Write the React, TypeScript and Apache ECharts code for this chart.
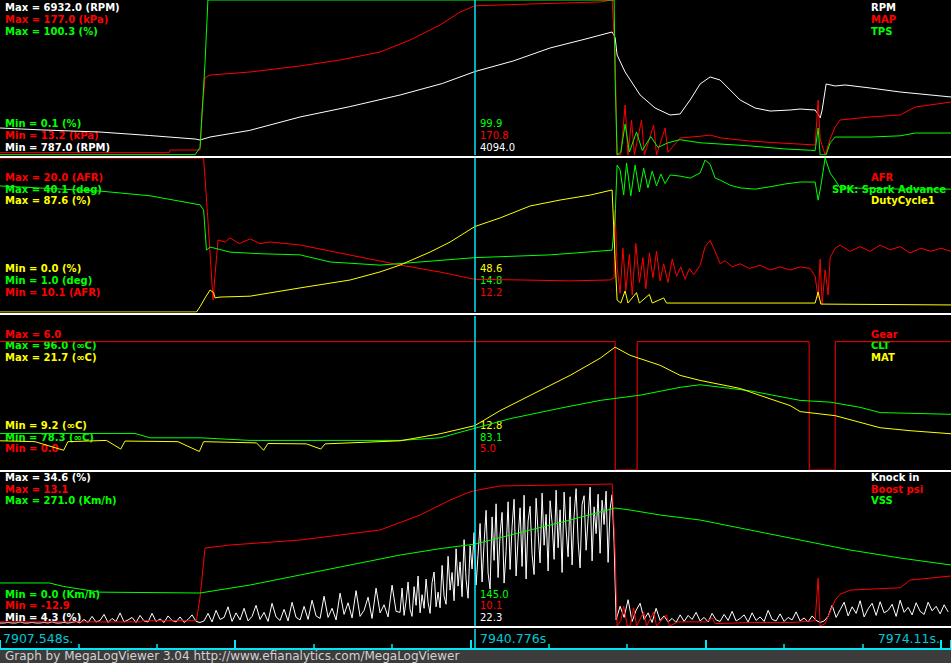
import React, { useEffect, useRef } from "react";
import * as echarts from "echarts";

type P = [number, number];

const T_MIN = 7907.548;
const T_MAX = 7974.11;
const CURSOR_T = 7940.776;
const START_LABEL = "7907.548s.";
const CURSOR_LABEL = "7940.776s";
const END_LABEL = "7974.11s.";
const FOOTER = "Graph by MegaLogViewer 3.04 http://www.efianalytics.com/MegaLogViewer";

// ---------- Panel 1 ----------
const rpmData: P[] = [
  [7907.55, 1857], [7910.5, 1780], [7914.55, 1698], [7918.0, 1560], [7921.2, 1421], [7921.55, 1381],
  [7922.25, 1500], [7925.0, 1760], [7928.55, 2294], [7932.0, 2700], [7935.55, 3166], [7938.5, 3620],
  [7940.78, 4094], [7943.5, 4520], [7946.05, 5030], [7948.5, 5380], [7950.39, 5664], [7950.6, 5450],
  [7950.74, 4752], [7951.3, 4078], [7952.35, 3166], [7953.4, 2650], [7954.45, 2373], [7955.15, 2413],
  [7955.85, 2968], [7956.55, 3602], [7957.25, 3880], [7957.95, 3761], [7958.65, 3364], [7959.35, 2968],
  [7960.4, 2650], [7961.45, 2530], [7962.85, 2571], [7963.55, 2610], [7964.6, 2571], [7964.81, 2400],
  [7964.95, 2254], [7965.09, 2571], [7965.37, 3602], [7966.0, 3523], [7966.7, 3563], [7968.45, 3444],
  [7970.55, 3285], [7974.12, 3087],
];
const mapData: P[] = [
  [7907.55, 15.6], [7919.4, 15.6], [7919.45, 18.5], [7921.55, 18.5], [7921.7, 60], [7921.9, 95],
  [7922.25, 97.7], [7925.05, 100.9], [7928.55, 107.3], [7931.35, 113.6], [7934.15, 122.0], [7936.25, 134.7],
  [7938.35, 150.6], [7939.75, 164.3], [7940.78, 170.8], [7944.65, 172.8], [7949.55, 174.9], [7950.39, 177.0],
  [7950.6, 120], [7950.74, 13.2], [7951.0, 13.2], [7951.3, 66.0], [7951.5, 13.2], [7951.75, 50],
  [7951.95, 13.2], [7952.45, 50.2], [7952.65, 13.2], [7953.3, 44.9], [7953.5, 13.2], [7954.1, 41.7],
  [7954.3, 16], [7955.15, 31.2], [7956.55, 33], [7957.25, 34.3], [7958.0, 31.2], [7960.0, 28],
  [7962.0, 26], [7964.6, 23.8], [7964.81, 71.3], [7964.95, 30], [7965.3, 13.2], [7965.65, 30],
  [7966.0, 42.8], [7966.35, 50.2], [7968.45, 53.4], [7970.55, 55.5], [7971.6, 63.9], [7974.12, 69.2],
];
const tpsData: P[] = [
  [7907.55, 0.3], [7921.2, 0.3], [7921.55, 5], [7921.9, 60], [7922.1, 100.3], [7950.53, 100.3],
  [7950.6, 50], [7950.74, 0.1], [7951.0, 2], [7951.3, 20], [7951.6, 2], [7952.1, 15], [7952.5, 3],
  [7953.1, 12], [7953.6, 5], [7954.3, 8], [7955.15, 10], [7956.55, 8], [7960.0, 6], [7962.5, 4],
  [7964.6, 3], [7964.81, 17.6], [7964.95, 0.2], [7965.37, 0.2], [7965.65, 8], [7966.0, 11.7],
  [7968.45, 11.7], [7970.55, 12.5], [7971.6, 14.3], [7974.12, 14.3],
];

// ---------- Panel 2 ----------
const afrData: P[] = [
  [7907.55, 20.0], [7921.8, 20.0], [7922.1, 16], [7922.46, 10.87], [7922.6, 12.5], [7922.81, 14.73],
  [7923.3, 14.6], [7923.65, 14.86], [7924.3, 14.5], [7925.05, 14.8], [7925.75, 14.5], [7926.45, 14.6],
  [7928.55, 14.41], [7932.05, 13.76], [7935.55, 13.12], [7938.35, 12.67], [7940.78, 12.2], [7943.95, 12.16],
  [7947.45, 12.1], [7950.25, 12.16], [7950.53, 12.3], [7950.6, 16.66], [7950.74, 13.0], [7950.95, 11.3],
  [7951.15, 14.2], [7951.35, 11.5], [7951.6, 13.8], [7951.8, 11.2], [7952.05, 14.5], [7952.3, 12.0],
  [7952.55, 13.6], [7952.75, 11.6], [7953.0, 13.9], [7953.25, 12.3], [7953.5, 14.0], [7953.75, 12.1],
  [7954.0, 13.2], [7954.3, 12.0], [7954.6, 13.5], [7954.9, 12.4], [7955.2, 13.0], [7955.5, 12.2],
  [7955.8, 12.9], [7956.1, 12.5], [7956.55, 13.1], [7956.9, 14.3], [7957.25, 14.7], [7957.6, 14.0],
  [7957.95, 13.2], [7958.3, 13.4], [7958.8, 13.0], [7959.35, 13.2], [7960.0, 12.9], [7960.75, 13.1],
  [7961.45, 12.8], [7962.15, 13.0], [7962.85, 12.8], [7963.55, 13.0], [7964.25, 12.9], [7964.6, 12.4],
  [7964.81, 11.0], [7964.95, 13.5], [7965.09, 10.6], [7965.3, 12.8], [7965.51, 11.2], [7965.65, 13.6],
  [7966.0, 14.2], [7966.35, 14.4], [7967.05, 14.0], [7967.75, 14.3], [7968.45, 14.0], [7969.15, 14.4],
  [7969.85, 14.1], [7970.55, 14.3], [7971.25, 13.9], [7972.0, 14.2], [7972.7, 14.0], [7973.4, 14.2],
  [7974.12, 14.0],
];
const spkData: P[] = [
  [7907.55, 33.0], [7914.55, 31.7], [7918.05, 30.5], [7921.55, 28.2], [7921.8, 26.9], [7922.0, 16.7],
  [7922.25, 17.5], [7923.65, 16.2], [7925.75, 15.8], [7928.55, 15.5], [7930.65, 13.7], [7934.15, 12.9],
  [7936.95, 13.7], [7940.78, 14.8], [7946.05, 15.5], [7950.39, 16.7], [7950.6, 25], [7950.74, 38.3],
  [7950.95, 37.1], [7951.2, 30.7], [7951.4, 38.8], [7951.7, 30.5], [7952.0, 38.3], [7952.3, 31.5],
  [7952.6, 37.5], [7952.9, 32.5], [7953.2, 36.8], [7953.5, 33.0], [7953.8, 36.0], [7954.1, 33.6],
  [7954.45, 35.8], [7955.15, 35.5], [7955.85, 35.0], [7956.55, 36.3], [7956.9, 39.6], [7957.25, 38.5],
  [7957.6, 35.0], [7957.95, 34.5], [7958.65, 33.2], [7959.35, 32.5], [7960.4, 32.2], [7961.45, 32.8],
  [7962.5, 33.5], [7963.55, 34.0], [7964.6, 34.0], [7964.81, 29.4], [7965.0, 33], [7965.3, 40.1],
  [7965.65, 36.3], [7966.0, 34.5], [7966.35, 32.5], [7968.45, 32.4], [7970.55, 32.2], [7974.12, 32.2],
];
const dutyData: P[] = [
  [7907.55, 0], [7921.3, 0], [7921.55, 3], [7921.9, 8], [7922.25, 12.5], [7922.5, 11], [7922.6, 8.0],
  [7922.95, 8.5], [7925.05, 9.0], [7928.55, 13.7], [7932.05, 18.2], [7934.15, 22.8], [7935.55, 26.7],
  [7937.65, 34.1], [7939.05, 39.8], [7940.78, 48.6], [7942.55, 53.5], [7944.65, 60.3], [7946.75, 63.7],
  [7948.85, 66.5], [7950.39, 69.4], [7950.6, 30], [7950.74, 6.8], [7951.0, 5.1], [7951.3, 12],
  [7951.5, 5.1], [7952.1, 11], [7952.3, 5.1], [7953.0, 10], [7953.2, 5.1], [7954.0, 8], [7954.2, 5.1],
  [7955.15, 5.1], [7964.6, 5.1], [7964.81, 11.4], [7965.0, 4.5], [7974.12, 4.0],
];

// ---------- Panel 3 ----------
const gearData: P[] = [
  [7907.55, 5], [7950.6, 5], [7950.61, 0], [7952.14, 0], [7952.15, 5], [7964.18, 5], [7964.19, 0],
  [7966.0, 0], [7966.01, 5], [7974.12, 5],
];
const cltData: P[] = [
  [7907.55, 82.5], [7917.0, 82.5], [7918.05, 82.0], [7921.55, 82.0], [7925.05, 81.7], [7935.55, 81.7],
  [7938.35, 82.0], [7940.78, 83.1], [7943.25, 84.2], [7946.75, 85.4], [7949.55, 86.3], [7952.35, 86.9],
  [7955.15, 87.8], [7956.55, 88.1], [7960.05, 87.4], [7963.55, 86.3], [7965.65, 86.1], [7967.75, 85.5],
  [7969.15, 84.9], [7974.12, 84.7],
];
const matData: P[] = [
  [7907.55, 11.57], [7910.0, 11.5], [7912.0, 10.8], [7912.3, 11.5], [7915.0, 11.6], [7916.0, 10.9],
  [7916.3, 11.55], [7920.0, 11.5], [7921.5, 10.7], [7921.8, 11.5], [7925.5, 11.4], [7926.0, 10.8],
  [7926.3, 11.35], [7929.0, 11.32], [7930.0, 10.9], [7930.3, 11.32], [7935.55, 11.57], [7938.35, 12.14],
  [7940.78, 12.8], [7942.55, 14.02], [7944.65, 15.25], [7947.45, 16.88], [7949.55, 18.27], [7950.6, 19.17],
  [7951.65, 18.51], [7953.75, 17.7], [7955.15, 16.88], [7956.55, 16.47], [7959.35, 15.82], [7960.75, 15.25],
  [7962.85, 14.43], [7963.55, 13.94], [7966.0, 13.61], [7969.15, 12.63], [7971.25, 12.39], [7974.12, 12.14],
];

// ---------- Panel 4 ----------
// knock sampled in three stretches of the log (start time, sample step, values)
const knockIdleT0 = 7907.55;
const knockIdleDt = 0.28;
const knockIdle: number[] = [
  4.9, 4.9, 5.0, 4.9, 4.9, 5.1, 4.9, 4.9, 5.0, 4.9, 4.9, 5.0, 4.9, 5.1, 4.9, 4.9, 5.0, 4.9, 5.0, 5.2, 4.9,
  5.6, 5.0, 6.2, 5.1, 5.4, 6.6, 5.0, 5.8, 5.2, 6.9, 5.1, 5.5, 6.0, 5.0, 6.4, 5.3, 5.1, 6.8, 5.2, 5.7,
  5.0, 6.3, 5.4, 5.1, 6.1, 5.0, 5.6, 6.5, 5.2, 5.0,
  5.3, 6.8, 5.1, 7.4, 5.6, 6.0, 8.1, 5.2, 6.9, 5.5, 7.8, 5.3, 6.2, 8.4, 5.6, 7.0, 5.2, 8.8, 6.1, 5.4,
  7.6, 5.3, 9.0, 6.0, 5.5,
  8.2, 5.6, 9.4, 6.3, 5.8, 10.2, 6.0, 7.8, 5.5, 10.8, 6.6, 8.9, 5.9, 11.3, 6.2, 7.4, 10.0, 5.8, 11.8, 6.9,
  8.5, 6.1, 12.4, 7.2,
];
const knockPullT0 = 7935.55;
const knockPullDt = 0.14;
const knockPull: number[] = [
  7.0, 11.8, 6.4, 9.2, 13.0, 7.6, 6.2, 12.1, 8.4, 14.2, 6.9, 10.5, 7.8, 13.6, 9.0, 6.8, 12.9, 15.0, 8.1, 11.0,
  7.9, 16.3, 10.2, 8.6, 18.1, 11.4, 14.9, 9.3, 19.6, 12.2, 17.0, 10.1, 21.4, 13.5, 9.8, 20.2, 15.6, 22.8, 12.4, 18.5,
  24.6, 13.0, 20.7, 27.2, 14.8, 11.6, 25.9, 17.3, 28.5, 13.9, 22.4, 26.8, 12.8, 19.0, 28.9, 15.5, 24.0, 29.4, 14.2, 21.6,
  27.7, 16.1, 30.2, 13.6, 25.1, 28.0, 18.4, 14.5, 29.6, 22.9, 16.8, 30.6, 20.3, 26.4, 15.2, 29.1, 24.7, 17.5, 31.2, 19.8,
  27.3, 14.9, 30.8, 23.5, 18.0, 29.9, 16.4, 26.1, 31.5, 21.2, 15.8, 28.4, 30.1, 19.3, 25.6, 31.8, 17.2, 27.9, 22.6, 30.4,
  18.7, 29.2, 24.4, 31.0, 16.9, 27.5, 30.3, 20.8,
];
const knockDecelT0 = 7950.67;
const knockDecelDt = 0.28;
const knockDecel: number[] = [
  5.5, 8.2, 6.0, 9.5, 5.2, 7.4, 8.8, 5.6, 6.9, 5.0, 7.8, 5.4, 6.3, 5.1, 5.8, 5.0, 6.5,
  5.2, 6.4, 5.6, 7.0, 5.3, 6.0, 5.1, 6.8, 5.5, 5.2, 6.6, 5.4, 7.2, 5.3, 5.8, 6.5, 5.1, 6.9, 5.4, 6.1,
  5.2, 7.4, 5.6, 5.3, 6.7, 5.2, 6.0, 5.5, 7.1, 5.3, 5.9, 5.1, 6.3, 5.4,
  5.0, 5.3, 6.2, 8.4, 6.0, 7.5, 9.0, 6.3, 8.1, 6.8, 9.3, 6.1, 7.7, 8.8, 6.4, 9.1, 6.9, 7.4, 8.6, 6.2,
  9.4, 7.0, 8.0, 6.5, 8.9, 7.2, 6.6, 9.0, 7.3, 8.2, 6.7, 8.5, 7.1,
];
const boostData: P[] = [
  [7907.55, -12.2], [7917.4, -12.2], [7917.5, -12.0], [7921.3, -12.0], [7921.55, -8], [7921.9, 0.35],
  [7923.65, 0.86], [7928.55, 1.71], [7934.15, 3.41], [7936.95, 5.96], [7939.05, 8.5], [7940.45, 9.9],
  [7940.78, 10.1], [7942.55, 10.9], [7946.75, 11.06], [7950.39, 11.23], [7950.6, 0], [7950.74, -12.9],
  [7951.0, -12.0], [7951.2, -9.5], [7951.45, -12.9], [7951.65, -12.9], [7951.9, -9.8], [7952.1, -12.9],
  [7952.6, -10.5], [7952.8, -12.9], [7953.3, -10.5], [7953.5, -12.9], [7954.2, -11.0], [7954.4, -12.9],
  [7955.0, -12.2], [7957.0, -12.2], [7957.4, -11.5], [7957.6, -12.5], [7960.0, -12.3], [7963.0, -12.3],
  [7964.6, -12.0], [7964.81, -4.75], [7964.95, -12.9], [7965.3, -12.5], [7966.0, -8.5], [7966.35, -7.5],
  [7967.05, -6.8], [7970.55, -6.4], [7971.25, -5.1], [7974.12, -4.4],
];
const vssData: P[] = [
  [7907.55, 76.2], [7911.0, 76.2], [7912.0, 70], [7914.5, 60], [7921.55, 58.4], [7925.05, 72.6],
  [7928.55, 90.3], [7932.05, 108.0], [7935.55, 125.7], [7938.35, 137], [7940.78, 145.0], [7944.65, 170.0],
  [7947.45, 187.7], [7949.55, 201.9], [7950.6, 209.0], [7951.65, 205.4], [7953.75, 196.6], [7956.55, 187.7],
  [7960.05, 170.0], [7963.55, 152.3], [7967.05, 134.6], [7970.55, 120.4], [7974.12, 108.0],
];

// Series meta: names, units, colors, ranges and cursor readouts
const NAMES = [
  ["RPM", "MAP", "TPS"],
  ["AFR", "SPK: Spark Advance", "DutyCycle1"],
  ["Gear", "CLT", "MAT"],
  ["Knock in", "Boost psi", "VSS"],
];
const UNITS = [
  ["RPM", "kPa", "%"],
  ["AFR", "deg", "%"],
  ["", "\u221eC", "\u221eC"],
  ["%", "", "Km/h"],
];
const COLORS = [
  ["#ffffff", "#ff0000", "#00ff00"],
  ["#ff0000", "#00ff00", "#ffff00"],
  ["#ff0000", "#00ff00", "#ffff00"],
  ["#ffffff", "#ff0000", "#00ff00"],
];
const MAXS = [
  [6932.0, 177.0, 100.3],
  [20.0, 40.1, 87.6],
  [6.0, 96.0, 21.7],
  [34.6, 13.1, 271.0],
];
const MINS = [
  [787.0, 13.2, 0.1],
  [10.1, 1.0, 0.0],
  [0.0, 78.3, 9.2],
  [4.3, -12.9, 0.0],
];
const CURSOR_VALUES = [
  [4094.0, 170.8, 99.9],
  [12.2, 14.8, 48.6],
  [5.0, 83.1, 12.8],
  [22.3, 10.1, 145.0],
];

function sampled(t0: number, dt: number, vals: number[]): P[] {
  return vals.map((v, i) => [t0 + i * dt, v] as P);
}
const knockData: P[] = [
  ...sampled(knockIdleT0, knockIdleDt, knockIdle),
  ...sampled(knockPullT0, knockPullDt, knockPull),
  ...sampled(knockDecelT0, knockDecelDt, knockDecel),
];
const DATA: P[][][] = [
  [rpmData, mapData, tpsData],
  [afrData, spkData, dutyData],
  [gearData, cltData, matData],
  [knockData, boostData, vssData],
];

// layout
const PANEL_TOP = [0, 158, 316, 473];
const PANEL_H = [155, 154, 154, 153];
const MAX_Y = [
  [7, 19, 31],
  [177.5, 189, 200.5],
  [334, 345.5, 357],
  [477.5, 489, 500.5],
];
const MIN_Y = [
  [147, 135, 123],
  [292, 280.5, 268.5],
  [448.5, 437, 425.5],
  [617, 605.5, 594],
];
const SEP_Y = [156, 313, 470, 626];
const CYAN = "#00e8f8";
const CYAN_TEXT = "#00c8d8";
const LABEL_FONT = 'bold 10px "DejaVu Sans", sans-serif';
const VALUE_FONT = '10px "DejaVu Sans", sans-serif';
const STRIP_FONT = '12.5px "DejaVu Sans", sans-serif';

function fmt(v: number) {
  return v.toFixed(1);
}

export default function App() {
  const ref = useRef<HTMLDivElement>(null);
  useEffect(() => {
    if (!ref.current) return;
    const chart = echarts.init(ref.current, undefined, { renderer: "svg" });

    const grids: any[] = PANEL_TOP.map((t, i) => ({ left: 0, right: 0, top: t, height: PANEL_H[i] }));
    grids.push({ left: 0, right: 0, top: 629, height: 20 });

    const xAxes: any[] = PANEL_TOP.map((_, i) => ({
      type: "value", gridIndex: i, min: T_MIN, max: T_MAX, show: false,
    }));
    const span = T_MAX - T_MIN;
    const minorStep = 5.4873;
    xAxes.push({
      type: "value", gridIndex: 4, min: 0, max: span, interval: minorStep * 3, position: "bottom",
      axisLine: { show: true, lineStyle: { color: CYAN, width: 2 } },
      axisTick: { show: true, inside: true, length: 9, lineStyle: { color: CYAN, width: 2 } },
      minorTick: { show: true, splitNumber: 3, length: 5, lineStyle: { color: CYAN, width: 1.5 } },
      axisLabel: { show: false }, splitLine: { show: false }, minorSplitLine: { show: false },
    });
    xAxes.push({ type: "value", gridIndex: 4, min: T_MIN, max: T_MAX, show: false });

    const yAxes: any[] = [];
    const series: any[] = [];
    const markLine = {
      silent: true, symbol: ["none", "none"], label: { show: false },
      lineStyle: { color: CYAN, width: 1.5, type: "solid" },
      data: [{ xAxis: CURSOR_T }],
      animation: false,
    };
    DATA.forEach((panel, p) => {
      panel.forEach((d, s) => {
        const yi = yAxes.length;
        yAxes.push({ type: "value", gridIndex: p, min: MINS[p][s], max: MAXS[p][s], show: false });
        series.push({
          type: "line", name: NAMES[p][s], xAxisIndex: p, yAxisIndex: yi, data: d,
          showSymbol: false, symbol: "none", clip: true, silent: true,
          lineStyle: { color: COLORS[p][s], width: 1 }, itemStyle: { color: COLORS[p][s] },
          ...(s === 0 ? { markLine } : {}),
        });
      });
    });
    const stripY = yAxes.length;
    yAxes.push({ type: "value", gridIndex: 4, min: 0, max: 1, show: false });
    series.push({
      type: "line", xAxisIndex: 5, yAxisIndex: stripY, data: [[T_MIN, 0.5], [T_MAX, 0.5]],
      showSymbol: false, symbol: "none", silent: true, lineStyle: { opacity: 0 }, markLine,
    });

    const graphics: any[] = [];
    const text = (x: number, y: number, t: string, fill: string, font: string, align = "left", z = 1) => ({
      type: "text", x, y, z, silent: true,
      style: { text: t, fill, font, textAlign: align, textVerticalAlign: "middle" },
    });
    for (let p = 0; p < 4; p++) {
      for (let s = 0; s < 3; s++) {
        const u = UNITS[p][s] ? ` (${UNITS[p][s]})` : "";
        graphics.push(text(5, MAX_Y[p][s], `Max = ${fmt(MAXS[p][s])}${u}`, COLORS[p][s], LABEL_FONT));
        graphics.push(text(5, MIN_Y[p][s], `Min = ${fmt(MINS[p][s])}${u}`, COLORS[p][s], LABEL_FONT));
        graphics.push(text(480, MIN_Y[p][s], fmt(CURSOR_VALUES[p][s]), COLORS[p][s], VALUE_FONT));
        const nm = NAMES[p][s];
        if (nm.length > 12) graphics.push(text(946, MAX_Y[p][s], nm, COLORS[p][s], LABEL_FONT, "right"));
        else graphics.push(text(871, MAX_Y[p][s], nm, COLORS[p][s], LABEL_FONT));
      }
    }
    SEP_Y.forEach((y) => {
      graphics.push({ type: "rect", z: 50, silent: true, shape: { x: 0, y, width: 951, height: 2 }, style: { fill: "#ffffff" } });
    });
    graphics.push(text(3, 638, START_LABEL, CYAN_TEXT, STRIP_FONT));
    graphics.push(text(480, 638, CURSOR_LABEL, CYAN_TEXT, STRIP_FONT));
    graphics.push(text(940, 638, END_LABEL, CYAN_TEXT, STRIP_FONT, "right"));
    graphics.push({ type: "rect", z: 60, silent: true, shape: { x: 0, y: 650, width: 951, height: 13 }, style: { fill: "#3c3c3c" } });
    graphics.push(text(5, 656, FOOTER, "#d2d2d2", '12px "DejaVu Sans", sans-serif', "left", 61));

    chart.setOption({
      animation: false,
      backgroundColor: "#000000",
      grid: grids,
      xAxis: xAxes,
      yAxis: yAxes,
      series,
      graphic: { elements: graphics },
    });
    return () => chart.dispose();
  }, []);
  return <div ref={ref} style={{ position: "absolute", left: 0, top: 0, width: 951, height: 663 }} />;
}
